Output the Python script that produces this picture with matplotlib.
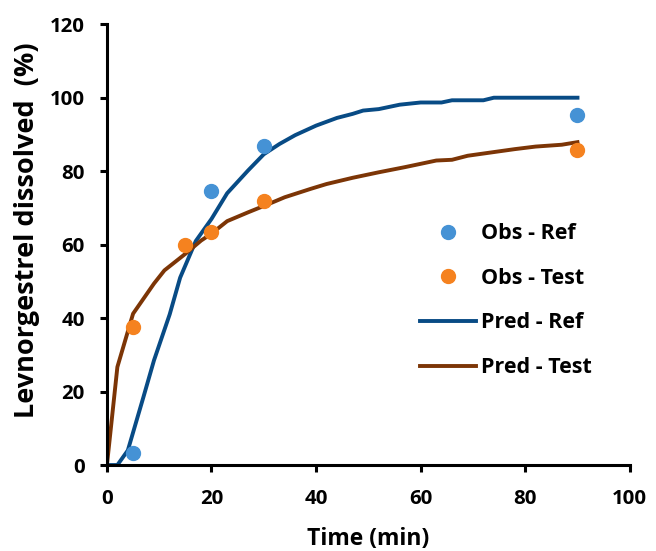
import matplotlib.pyplot as plt

plt.rcParams["font.family"] = ["Open Sans", "DejaVu Sans"]
plt.rcParams["font.weight"] = "bold"

# observerede punkter
obs_tid_ref = [5, 20, 30, 90]
obs_ref = [3.4, 74.6, 86.9, 95.4]
obs_tid_test = [5, 15, 20, 30, 90]
obs_test = [37.6, 60.0, 63.4, 71.8, 85.7]

# forudsagte kurver
pred_tid_ref = [0, 1, 2, 4, 7, 9, 12, 14, 17, 20, 23, 27, 30, 33, 36, 40, 44,
                47, 49, 52, 56, 60, 64, 66, 72, 74, 90]
pred_ref = [0, 0, 0, 4, 18.6, 28.5, 41, 51, 61, 67, 74, 80.2, 84.6, 87.4, 89.8,
            92.4, 94.5, 95.6, 96.5, 96.9, 98.1, 98.7, 98.7, 99.3, 99.3, 100, 100]
pred_tid_test = [0, 2, 5, 9, 11, 15, 18, 20, 23, 27, 31, 34, 39, 42, 47, 52, 57,
                 63, 66, 69, 75, 78, 82, 87, 90]
pred_test = [0, 26.7, 41.2, 49.4, 53, 57.5, 61.1, 63.0, 66.4, 68.8, 71.1, 72.9,
             75.2, 76.5, 78.2, 79.7, 81.1, 82.9, 83.1, 84.2, 85.4, 86.0, 86.7,
             87.2, 87.9]

fig = plt.figure(figsize=(6.56, 5.51), dpi=100)
ax = fig.add_axes([0.163, 0.156, 0.797, 0.800])

ax.plot(obs_tid_ref, obs_ref, "o", color="#4592d5", markersize=10,
        label="Obs - Ref", zorder=3)
ax.plot(obs_tid_test, obs_test, "o", color="#f5821f", markersize=10,
        label="Obs - Test", zorder=3)
ax.plot(pred_tid_ref, pred_ref, color="#084b85", linewidth=2.8,
        label="Pred - Ref")
ax.plot(pred_tid_test, pred_test, color="#7c3506", linewidth=2.8,
        label="Pred - Test")

ax.set_xlim(0, 100)
ax.set_ylim(0, 120)
ax.set_xticks(range(0, 101, 20))
ax.set_yticks(range(0, 121, 20))
ax.spines["top"].set_visible(False)
ax.spines["right"].set_visible(False)
for s in ("left", "bottom"):
    ax.spines[s].set_linewidth(2.2)
ax.tick_params(width=2.2, length=5, labelsize=14.7)
ax.tick_params(axis="x", pad=12)
ax.tick_params(axis="y", pad=11)
for lbl in ax.get_xticklabels() + ax.get_yticklabels():
    lbl.set_fontweight("bold")

ax.set_xlabel("Time (min)", fontsize=16.5, fontweight="bold", va="baseline")
ax.xaxis.set_label_coords(0.5, -0.181)
ax.set_ylabel("Levnorgestrel dissolved  (%)", fontsize=19.5, fontweight="bold",
              va="center")
ax.yaxis.set_label_coords(-0.152, 0.533)

ax.legend(loc="upper left", bbox_to_anchor=(0.598, 0.549), frameon=False,
          borderpad=0, borderaxespad=0, handlelength=2.6, handletextpad=0.25,
          labelspacing=1.1, prop={"weight": "bold", "size": 15.5})

fig.savefig("out.png", dpi=100)
